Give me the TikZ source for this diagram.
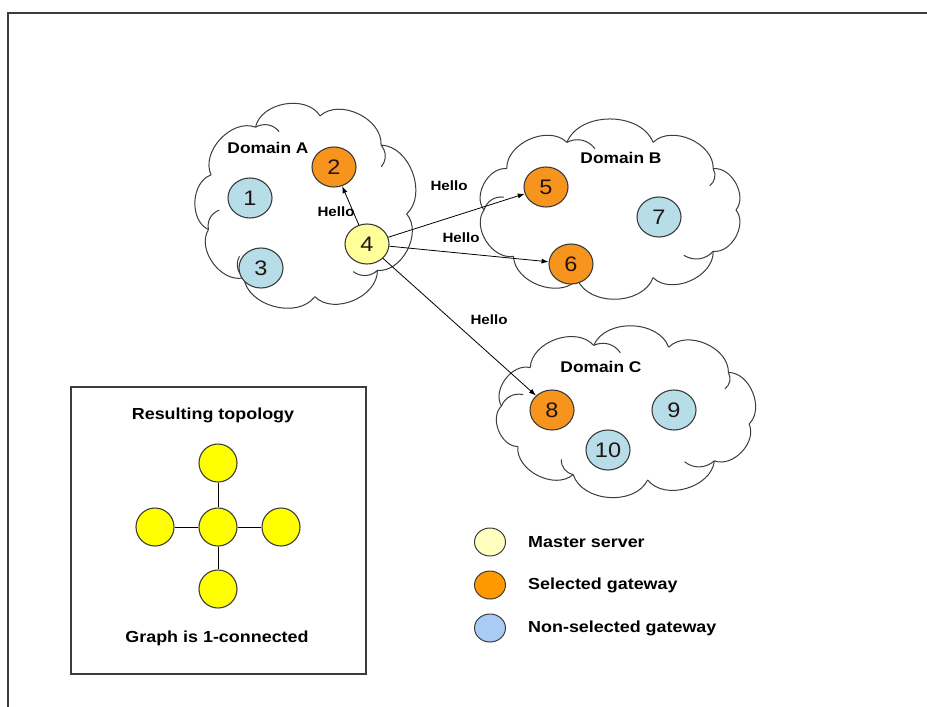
\documentclass[tikz,border=0pt]{standalone}
\usepackage{fontspec}
\setmainfont{Liberation Sans}
\newfontfamily\lblfont[FakeStretch=1.12]{Liberation Sans}
\usetikzlibrary{shapes.geometric,arrows.meta}

\definecolor{gwblue}{RGB}{183,222,232}
\definecolor{gworange}{RGB}{247,148,30}
\definecolor{masteryellow}{RGB}{255,255,153}
\definecolor{keyyellow}{RGB}{255,255,192}
\definecolor{keyorange}{RGB}{255,153,0}
\definecolor{keyblue}{RGB}{168,204,244}
\definecolor{topoyellow}{RGB}{255,255,0}
\definecolor{rim}{RGB}{60,60,60}
\definecolor{digit}{RGB}{35,20,20}

\tikzset{
  cloudline/.style={draw=rim, line width=1pt},
  domainlabel/.style={font=\lblfont\bfseries\fontsize{15.5}{16}\selectfont, inner sep=0pt},
  hellolabel/.style={font=\lblfont\bfseries\fontsize{13.5}{14}\selectfont, inner sep=0pt},
  boxlabel/.style={font=\lblfont\bfseries\fontsize{16}{17}\selectfont, inner sep=0pt},
  station/.style={shape=ellipse, draw=rim, line width=1.1pt, minimum width=44pt,
    minimum height=40pt, inner sep=0pt, text=digit,
    font=\lblfont\fontsize{21}{21}\selectfont},
  master/.style={station, fill=masteryellow},
  selected/.style={station, fill=gworange},
  plain/.style={station, fill=gwblue},
  hello/.style={draw=black, line width=0.8pt, -{Latex[length=7pt,width=5pt]}},
  topo/.style={shape=circle, draw=rim, line width=1.1pt, fill=topoyellow,
    minimum size=38pt, inner sep=0pt},
  topolink/.style={draw=black, line width=0.9pt},
  keydot/.style={shape=ellipse, draw=rim, line width=1pt, minimum width=31pt,
    minimum height=28pt, inner sep=0pt},
  keytext/.style={boxlabel, anchor=west},
}

% a cloud: puffs bulging out between junctions on an ellipse,
% plus short folds curling inward from some of the junctions
% #1 centre, #2 rx, #3 ry, #4 puff list a/b, #5 fold angles
\newcommand\puffcloud[5]{%
  \begin{scope}[shift={#1}]
    \foreach \a/\b in {#4}
      \fill[white] (0,0) -- (\a:#2 and #3) to[bend left=68] (\b:#2 and #3) -- cycle;
    \foreach \a/\b in {#4}
      \draw[cloudline] (\a:#2 and #3) to[bend left=68] (\b:#2 and #3);
    \foreach \a in {#5}
      \draw[cloudline] (\a:#2 and #3) to[bend left=40] (\a+12:{0.86*#2} and {0.86*#3});
  \end{scope}}

\begin{document}
\begin{tikzpicture}[x=1pt,y=-1pt]
\useasboundingbox (0,0) rectangle (927,707);

% outer frame, running off the bottom and right edges
\draw[rim, line width=2pt] (8,707) -- (8,13) -- (927,13);

% the three domains
\puffcloud{(306,206)}{101}{91}
  {5/45,45/85,85/128,128/165,165/200,200/240,240/278,278/318,318/365}
  {45,128,165,240,318}
\puffcloud{(610,210)}{126}{72}
  {0/35,35/70,70/105,105/140,140/180,180/215,215/250,250/290,290/325,325/360}
  {35,105,180,250,325}
\puffcloud{(626,412)}{125}{69}
  {10/45,45/80,80/115,115/150,150/185,185/220,220/255,255/290,290/325,325/370}
  {45,115,185,255,325}

\node[domainlabel] (labA) at (268,148) {Domain A};
\node[domainlabel] (labB) at (621,158) {Domain B};
\node[domainlabel] (labC) at (601,367) {Domain C};

% gateways and master server
\node[plain]    (n1)  at (250,198) {1};
\node[selected] (n2)  at (334,167) {2};
\node[plain]    (n3)  at (261,268) {3};
\node[master]   (n4)  at (367,244) {4};
\node[selected] (n5)  at (546,187) {5};
\node[selected] (n6)  at (571,264) {6};
\node[plain]    (n7)  at (659,217) {7};
\node[selected] (n8)  at (552,410) {8};
\node[plain]    (n9)  at (674,410) {9};
\node[plain]    (n10) at (608,450) {10};

% hello messages from the master server
\draw[hello] (n4) -- (n2);
\draw[hello] (n4) -- (n5);
\draw[hello] (n4) -- (n6);
\draw[hello] (n4) -- (n8);
\node[hellolabel] (h2) at (336,212) {Hello};
\node[hellolabel] (h5) at (449,186) {Hello};
\node[hellolabel] (h6) at (461,238) {Hello};
\node[hellolabel] (h8) at (489,320) {Hello};

% resulting topology inset
\node[draw=rim, line width=1.2pt, minimum width=295pt, minimum height=287pt,
  inner sep=0pt] (inset) at (218.5,530.5) {};
\node[boxlabel] (topotitle) at (213,415) {Resulting topology};
\node[boxlabel] (topofoot) at (217,638) {Graph is 1-connected};
\node[topo] (tc) at (218,527) {};
\node[topo] (tt) at (218,463) {};
\node[topo] (tb) at (218,589) {};
\node[topo] (tl) at (155,527) {};
\node[topo] (tr) at (281,527) {};
\draw[topolink] (tc) -- (tt);
\draw[topolink] (tc) -- (tb);
\draw[topolink] (tc) -- (tl);
\draw[topolink] (tc) -- (tr);

% key
\node[keydot, fill=keyyellow] (k1) at (490,542) {};
\node[keydot, fill=keyorange] (k2) at (490,585) {};
\node[keydot, fill=keyblue]   (k3) at (490,628) {};
\node[keytext] (t1) at (528,542) {Master server};
\node[keytext] (t2) at (528,585) {Selected gateway};
\node[keytext] (t3) at (528,628) {Non-selected gateway};
\end{tikzpicture}
\end{document}
